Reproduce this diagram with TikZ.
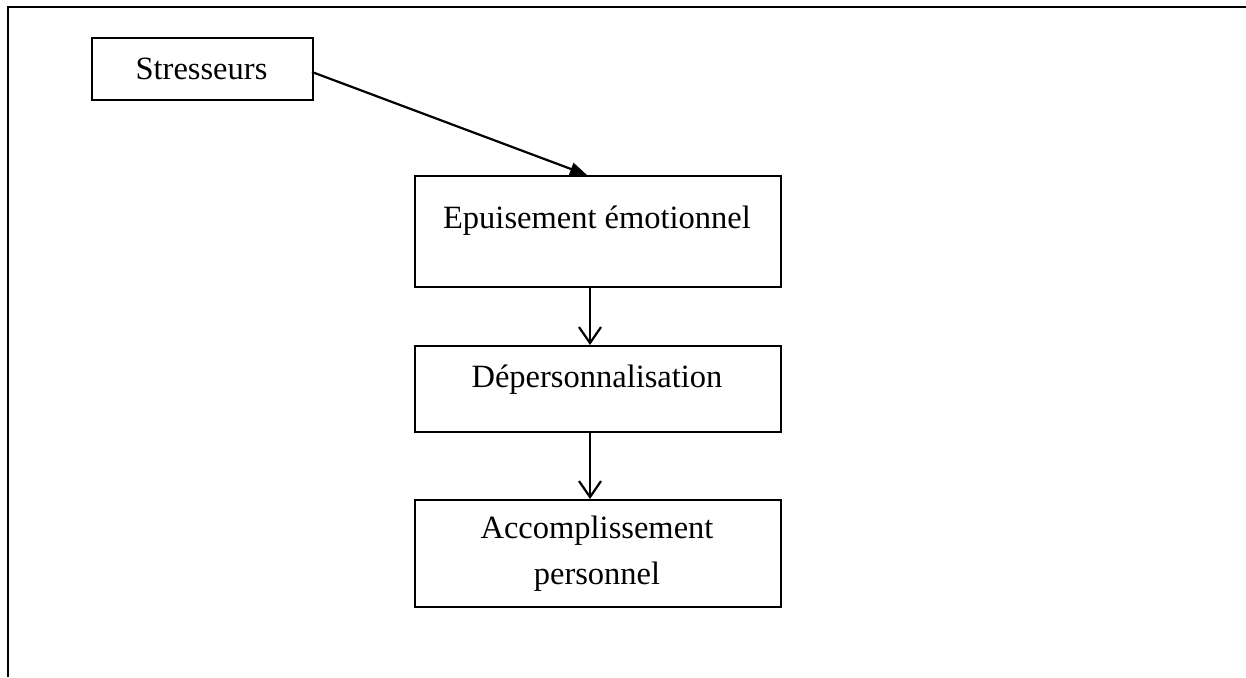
\documentclass[tikz,border=0pt]{standalone}
\usepackage{fontspec}
\setmainfont{Liberation Serif}
\usetikzlibrary{arrows.meta}
\begin{document}
\begin{tikzpicture}[x=1pt,y=-1pt,
  box/.style={draw=black,line width=2.3pt,inner sep=0pt,anchor=north west},
  lbl/.style={font=\fontsize{32.5}{38}\selectfont,inner sep=0pt,align=center},
  conn/.style={line width=2.2pt},
  filledtip/.style={conn,-{Triangle[length=17pt,width=13pt]}},
  opentip/.style={conn,-{Straight Barb[length=16pt,width=22pt,line width=2.2pt]}}]
\useasboundingbox (0,0) rectangle (1246,677);
\draw[line width=2.5pt] (8,677) -- (8,7) -- (1246,7);
\node[box,minimum width=221pt,minimum height=62pt] (s) at (91,37) {};
\node[lbl] (st) at (201.5,69) {Stresseurs};
\node[box,minimum width=366pt,minimum height=111pt] (e) at (414,175) {};
\node[lbl] (et) at (597,221) {Epuisement émotionnel};
\node[box,minimum width=366pt,minimum height=86pt] (d) at (414,345) {};
\node[lbl] (dt) at (597,380) {Dépersonnalisation};
\node[box,minimum width=366pt,minimum height=107pt] (a) at (414,499) {};
\node[lbl] (at1) at (597,531) {Accomplissement};
\node[lbl] (at2) at (597,577) {personnel};
\coordinate (s1) at (312,72);
\coordinate (e1) at (587,175);
\coordinate (e2) at (590,286);
\coordinate (d1) at (590,345);
\coordinate (d2) at (590,431);
\coordinate (a1) at (590,499);
\draw[filledtip] (s1) -- (e1);
\draw[opentip] (e2) -- (d1);
\draw[opentip] (d2) -- (a1);
\end{tikzpicture}
\end{document}
